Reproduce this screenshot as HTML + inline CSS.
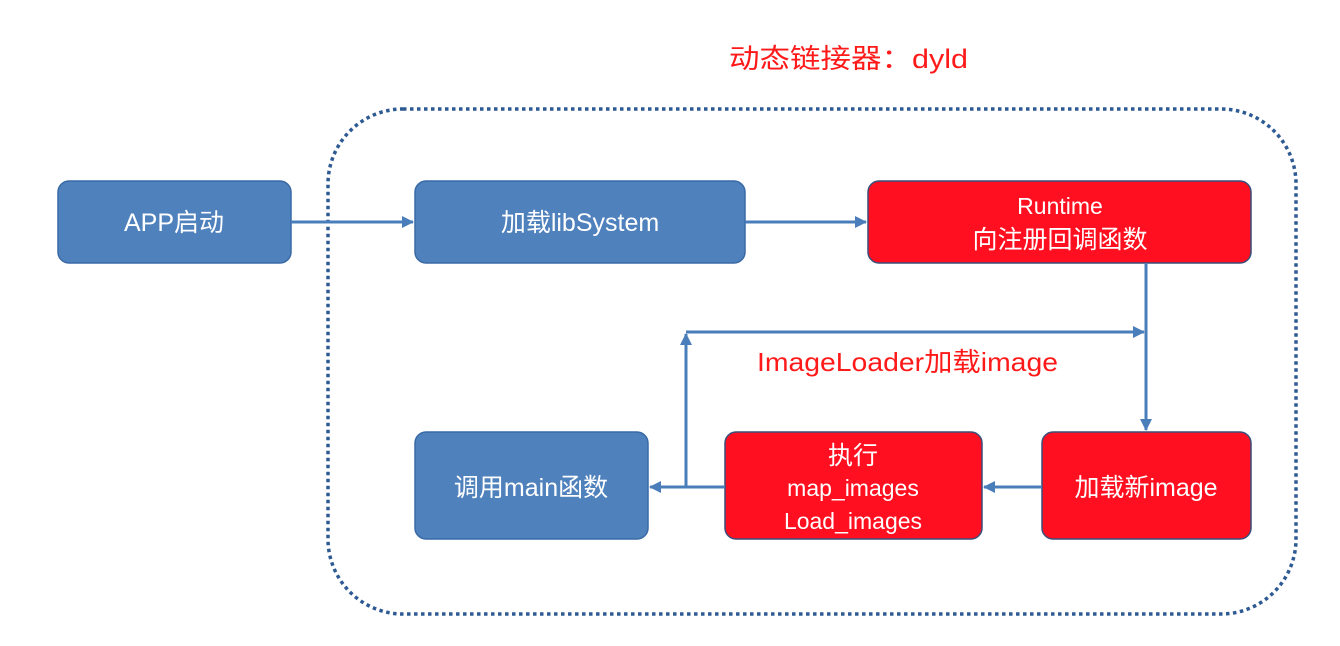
<!DOCTYPE html>
<html><head><meta charset="utf-8"><style>
html,body{margin:0;padding:0;background:#fff;}
svg{display:block;}
text{font-family:"Liberation Sans","Noto Sans CJK SC",sans-serif;}
</style></head><body>
<svg width="1340" height="646" viewBox="0 0 1340 646" xmlns="http://www.w3.org/2000/svg">
<defs>
<marker id="a" markerWidth="12" markerHeight="12" refX="11" refY="6" orient="auto" markerUnits="userSpaceOnUse">
<path d="M0,0 L12,6 L0,12 z" fill="#4a7ebb"/></marker>
</defs>
<rect x="0" y="0" width="1340" height="646" fill="#fff"/>
<text x="729" y="68" font-size="27" fill="#ff1a1a" textLength="239" lengthAdjust="spacingAndGlyphs">动态链接器：dyld</text>
<rect x="328" y="109" width="968" height="505" rx="75" fill="none" stroke="#2e5a94" stroke-width="3.5" stroke-dasharray="3.5 3.5"/>
<g stroke="#3a6aa5" stroke-width="1.5">
<rect x="58" y="181" width="233" height="82" rx="11" fill="#4f81bd"/>
<rect x="415" y="181" width="330" height="82" rx="11" fill="#4f81bd"/>
<rect x="415" y="432" width="233" height="107" rx="11" fill="#4f81bd"/>
</g>
<g stroke="#3a4f7a" stroke-width="1.5">
<rect x="868" y="181" width="383" height="82" rx="11" fill="#ff0f1f"/>
<rect x="725" y="432" width="257" height="107" rx="11" fill="#ff0f1f"/>
<rect x="1042" y="432" width="209" height="107" rx="11" fill="#ff0f1f"/>
</g>
<g stroke="#4a7ebb" stroke-width="3" fill="none">
<line x1="291" y1="222" x2="413" y2="222" marker-end="url(#a)"/>
<line x1="745" y1="222" x2="866" y2="222" marker-end="url(#a)"/>
<line x1="1146" y1="263" x2="1146" y2="430" marker-end="url(#a)"/>
<line x1="686" y1="332" x2="1144" y2="332" marker-end="url(#a)"/>
<line x1="686" y1="487" x2="686" y2="334" marker-end="url(#a)"/>
<line x1="725" y1="487" x2="650" y2="487" marker-end="url(#a)"/>
<line x1="1042" y1="487" x2="984" y2="487" marker-end="url(#a)"/>
</g>
<g fill="#fff" text-anchor="middle">
<text x="174" y="231" font-size="25">APP启动</text>
<text x="580" y="231" font-size="25">加载libSystem</text>
<text x="1060" y="214" font-size="23">Runtime</text>
<text x="1060" y="248" font-size="25">向注册回调函数</text>
<text x="531" y="496" font-size="25">调用main函数</text>
<text x="853" y="464" font-size="25">执行</text>
<text x="853" y="496" font-size="23">map_images</text>
<text x="853" y="529" font-size="23">Load_images</text>
<text x="1146" y="496" font-size="25">加载新image</text>
</g>
<text x="757" y="371" font-size="26" fill="#ff1a1a" textLength="301" lengthAdjust="spacingAndGlyphs">ImageLoader加载image</text>
</svg>
</body></html>
